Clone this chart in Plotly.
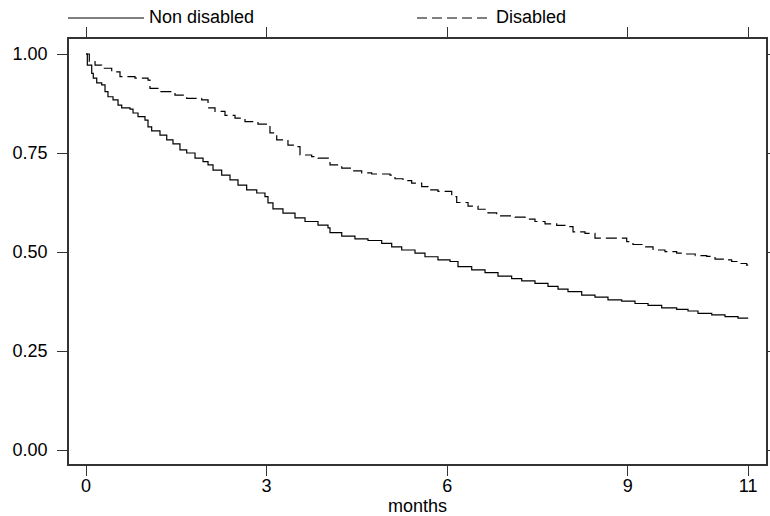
import plotly.graph_objects as go

# ---- data ----
series_names = ["Non disabled", "Disabled"]

months_non = [0.000, 0.022, 0.095, 0.121, 0.178, 0.261, 0.316, 0.365, 0.449, 0.532,
              0.593, 0.731, 0.781, 0.864, 0.980, 1.030, 1.091, 1.229, 1.341, 1.445,
              1.561, 1.673, 1.811, 1.944, 2.027, 2.110, 2.254, 2.392, 2.525, 2.669,
              2.836, 2.973, 3.023, 3.106, 3.272, 3.472, 3.638, 3.854, 4.020, 4.053,
              4.248, 4.468, 4.684, 4.912, 5.078, 5.244, 5.465, 5.631, 5.847, 6.047,
              6.179, 6.407, 6.628, 6.844, 7.071, 7.238, 7.458, 7.674, 7.841, 8.007,
              8.234, 8.455, 8.671, 8.899, 9.120, 9.336, 9.563, 9.812, 10.000, 10.166,
              10.394, 10.615, 10.831, 11.000]
surv_non = [1.000, 0.972, 0.951, 0.939, 0.927, 0.922, 0.905, 0.892, 0.884, 0.871,
            0.864, 0.861, 0.851, 0.842, 0.833, 0.816, 0.806, 0.795, 0.783, 0.773,
            0.758, 0.750, 0.737, 0.728, 0.720, 0.707, 0.694, 0.682, 0.669, 0.657,
            0.649, 0.640, 0.624, 0.609, 0.598, 0.586, 0.577, 0.568, 0.561, 0.549,
            0.540, 0.533, 0.529, 0.522, 0.513, 0.505, 0.497, 0.488, 0.480, 0.476,
            0.463, 0.455, 0.448, 0.439, 0.433, 0.427, 0.421, 0.413, 0.406, 0.400,
            0.391, 0.386, 0.379, 0.376, 0.370, 0.365, 0.359, 0.355, 0.351, 0.345,
            0.341, 0.337, 0.333, 0.333]

months_dis = [0.000, 0.055, 0.150, 0.261, 0.427, 0.565, 0.814, 1.030, 1.063, 1.229,
              1.478, 1.673, 1.922, 2.027, 2.143, 2.309, 2.475, 2.641, 2.857, 3.056,
              3.168, 3.355, 3.522, 3.555, 3.749, 3.854, 4.053, 4.248, 4.414, 4.580,
              4.746, 5.050, 5.133, 5.266, 5.410, 5.576, 5.681, 5.847, 6.075, 6.158,
              6.346, 6.512, 6.678, 6.822, 7.126, 7.292, 7.458, 7.625, 7.819, 8.007,
              8.090, 8.289, 8.455, 8.982, 9.086, 9.252, 9.419, 9.618, 9.812, 9.953,
              10.120, 10.311, 10.449, 10.615, 10.726, 10.831, 10.975, 11.000]
surv_dis = [1.000, 0.981, 0.972, 0.964, 0.955, 0.943, 0.939, 0.934, 0.913, 0.905,
            0.896, 0.888, 0.884, 0.864, 0.855, 0.845, 0.838, 0.829, 0.823, 0.801,
            0.783, 0.770, 0.766, 0.745, 0.741, 0.737, 0.720, 0.712, 0.705, 0.700,
            0.697, 0.694, 0.685, 0.680, 0.674, 0.665, 0.657, 0.653, 0.640, 0.625,
            0.616, 0.608, 0.599, 0.591, 0.588, 0.583, 0.577, 0.571, 0.567, 0.564,
            0.551, 0.547, 0.535, 0.526, 0.519, 0.513, 0.505, 0.501, 0.497, 0.495,
            0.491, 0.489, 0.482, 0.480, 0.476, 0.471, 0.467, 0.467]

x_ticks = [0, 3, 6, 9, 11]
y_ticks = [0, 0.25, 0.5, 0.75, 1.0]
x_title = "months"

# ---- figure ----
FONT = "Liberation Sans, Arial, sans-serif"
AX = "#333333"
L, R, T, B = 69, 4, 39, 52
W, H = 770, 516
pw, ph = W - L - R, H - T - B

fig = go.Figure()
fig.add_trace(go.Scatter(x=months_non, y=surv_non, mode="lines", line_shape="hv",
                         name=series_names[0],
                         line=dict(color="black", width=1.2)))
fig.add_trace(go.Scatter(x=months_dis, y=surv_dis, mode="lines", line_shape="hv",
                         name=series_names[1],
                         line=dict(color="black", width=1.2, dash="11px,5px")))

def px2paper_x(px):
    return (px - L) / pw

def px2paper_y(py):
    return (H - B - py) / ph

# manual legend (line samples + labels) above the plot
leg_y = 18
fig.add_shape(type="line", xref="paper", yref="paper",
              x0=px2paper_x(68), x1=px2paper_x(144),
              y0=px2paper_y(leg_y), y1=px2paper_y(leg_y),
              line=dict(color="black", width=1))
fig.add_shape(type="line", xref="paper", yref="paper",
              x0=px2paper_x(417), x1=px2paper_x(492),
              y0=px2paper_y(leg_y), y1=px2paper_y(leg_y),
              line=dict(color="black", width=1, dash="10px,5px"))
fig.add_annotation(x=px2paper_x(147), y=px2paper_y(17), xref="paper", yref="paper",
                   text=series_names[0], showarrow=False, xanchor="left", yanchor="middle",
                   font=dict(family=FONT, size=18, color="black"))
fig.add_annotation(x=px2paper_x(494), y=px2paper_y(17), xref="paper", yref="paper",
                   text=series_names[1], showarrow=False, xanchor="left", yanchor="middle",
                   font=dict(family=FONT, size=18, color="black"))

axis_common = dict(showline=True, linecolor=AX, linewidth=1.5, mirror="allticks",
                   ticks="outside", ticklen=10, tickwidth=1, tickcolor=AX,
                   showgrid=False, zeroline=False,
                   tickfont=dict(family=FONT, size=18, color="black"))

fig.update_xaxes(range=[-17 / 60.2, (766 - 86) / 60.2], tickvals=x_ticks,
                 ticktext=[str(v) for v in x_ticks], ticklabelstandoff=-5,
                 title=dict(text=x_title, standoff=0,
                            font=dict(family=FONT, size=18, color="black")),
                 **axis_common)
fig.update_yaxes(range=[-14 / 396, 1 + 15 / 396], tickvals=y_ticks,
                 tickformat=".2f", ticklabelstandoff=6, **axis_common)

fig.update_layout(width=W, height=H, margin=dict(l=L, r=R, t=T, b=B, autoexpand=False),
                  plot_bgcolor="white", paper_bgcolor="white", showlegend=False,
                  font=dict(family=FONT, size=18, color="black"))

fig.write_html("out.html")
